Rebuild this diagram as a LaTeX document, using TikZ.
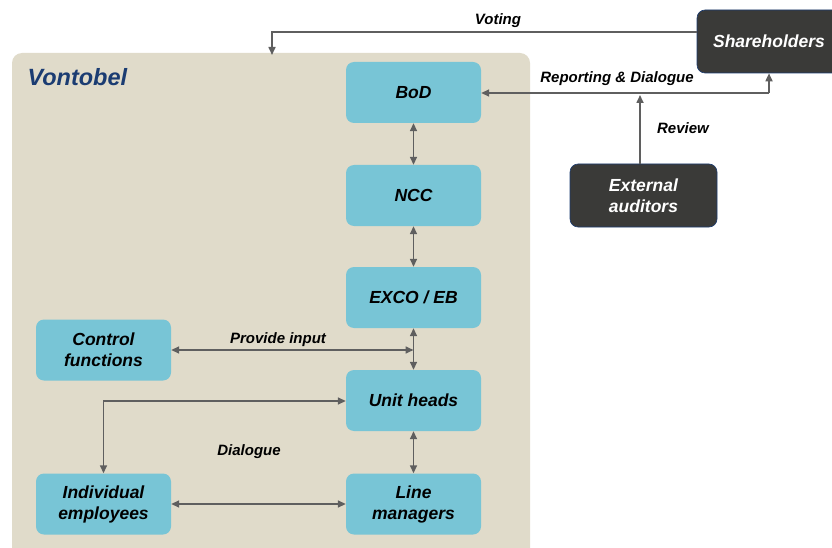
\documentclass[tikz,border=0pt]{standalone}
\usepackage{fontspec}
\setmainfont{Liberation Sans}
\usetikzlibrary{arrows.meta}
\definecolor{panelbg}{HTML}{E0DBCA}
\definecolor{boxblue}{HTML}{78C5D6}
\definecolor{boxdark}{HTML}{3A3A38}
\definecolor{linegray}{HTML}{5F5F5F}
\definecolor{vtblue}{HTML}{1B3C72}
\tikzset{
  unit/.style={rectangle, rounded corners=8pt, fill=boxblue, minimum width=135pt,
    minimum height=61pt, inner sep=0pt, align=center,
    font=\bfseries\itshape\fontsize{17.5}{21}\selectfont},
  outside/.style={unit, fill=boxdark, draw=vtblue, line width=0.6pt, text=white},
  flow/.style={draw=linegray, line width=1.6pt, -{Triangle[length=8pt,width=7pt]}},
  twoway/.style={flow, {Triangle[length=8pt,width=7pt]}-{Triangle[length=8pt,width=7pt]}},
  lbl/.style={font=\bfseries\itshape\fontsize{15}{18}\selectfont}
}
\begin{document}
\begin{tikzpicture}[x=1pt,y=-1pt]
\useasboundingbox (0,0) rectangle (832,548);
\clip (0,0) rectangle (832,548);
\fill[white] (0,0) rectangle (832,548);
% the bank
\fill[panelbg, rounded corners=10pt] (12,53) rectangle (530,560);
\node[anchor=west, text=vtblue, font=\bfseries\itshape\fontsize{23.5}{26}\selectfont] (vontobel) at (24,77) {Vontobel};
\node[unit] (bod) at (413.5,92.5) {BoD};
\node[unit] (ncc) at (413.5,195.5) {NCC};
\node[unit] (exco) at (413.5,297.5) {EXCO / EB};
\node[unit] (unith) at (413.5,400.5) {Unit heads};
\node[unit] (linem) at (413.5,504) {Line\\managers};
\node[unit] (ctrl) at (103.5,350) {Control\\functions};
\node[unit] (indiv) at (103.5,504) {Individual\\employees};
% outside parties
\node[outside, minimum width=144pt, minimum height=63pt] (share) at (769,41.5) {Shareholders};
\node[outside, minimum width=147pt, minimum height=63pt] (audit) at (643.5,195.5) {External\\auditors};
\coordinate (vote) at (272,55);
\coordinate (rep) at (769,93);
\coordinate (rev) at (640,95);
\coordinate (pin) at (413.5,350);
\coordinate (uturn) at (103.5,401);
% vertical chain
\draw[twoway] (bod) -- (ncc);
\draw[twoway] (ncc) -- (exco);
\draw[twoway] (exco) -- (unith);
\draw[twoway] (unith) -- (linem);
\draw[twoway] (indiv) -- (linem);
\draw[twoway] (ctrl) -- (pin);
\draw[twoway] (unith.west |- uturn) -- (uturn) -- (indiv);
% links to outside
\draw[flow] (share.west |- 0,32) -| (vote);
\draw[flow] (rep) -- (bod.east |- rep);
\draw[flow] (rep) -- (share.south -| rep);
\draw[flow] (audit.north -| rev) -- (rev);
% labels
\node[lbl] (lvote) at (498,21) {Voting};
\node[lbl] (lrep) at (617,79) {Reporting \& Dialogue};
\node[lbl] (lrev) at (683,128) {Review};
\node[lbl] (lpin) at (278,340) {Provide input};
\node[lbl] (ldia) at (249,452) {Dialogue};
\end{tikzpicture}
\end{document}
